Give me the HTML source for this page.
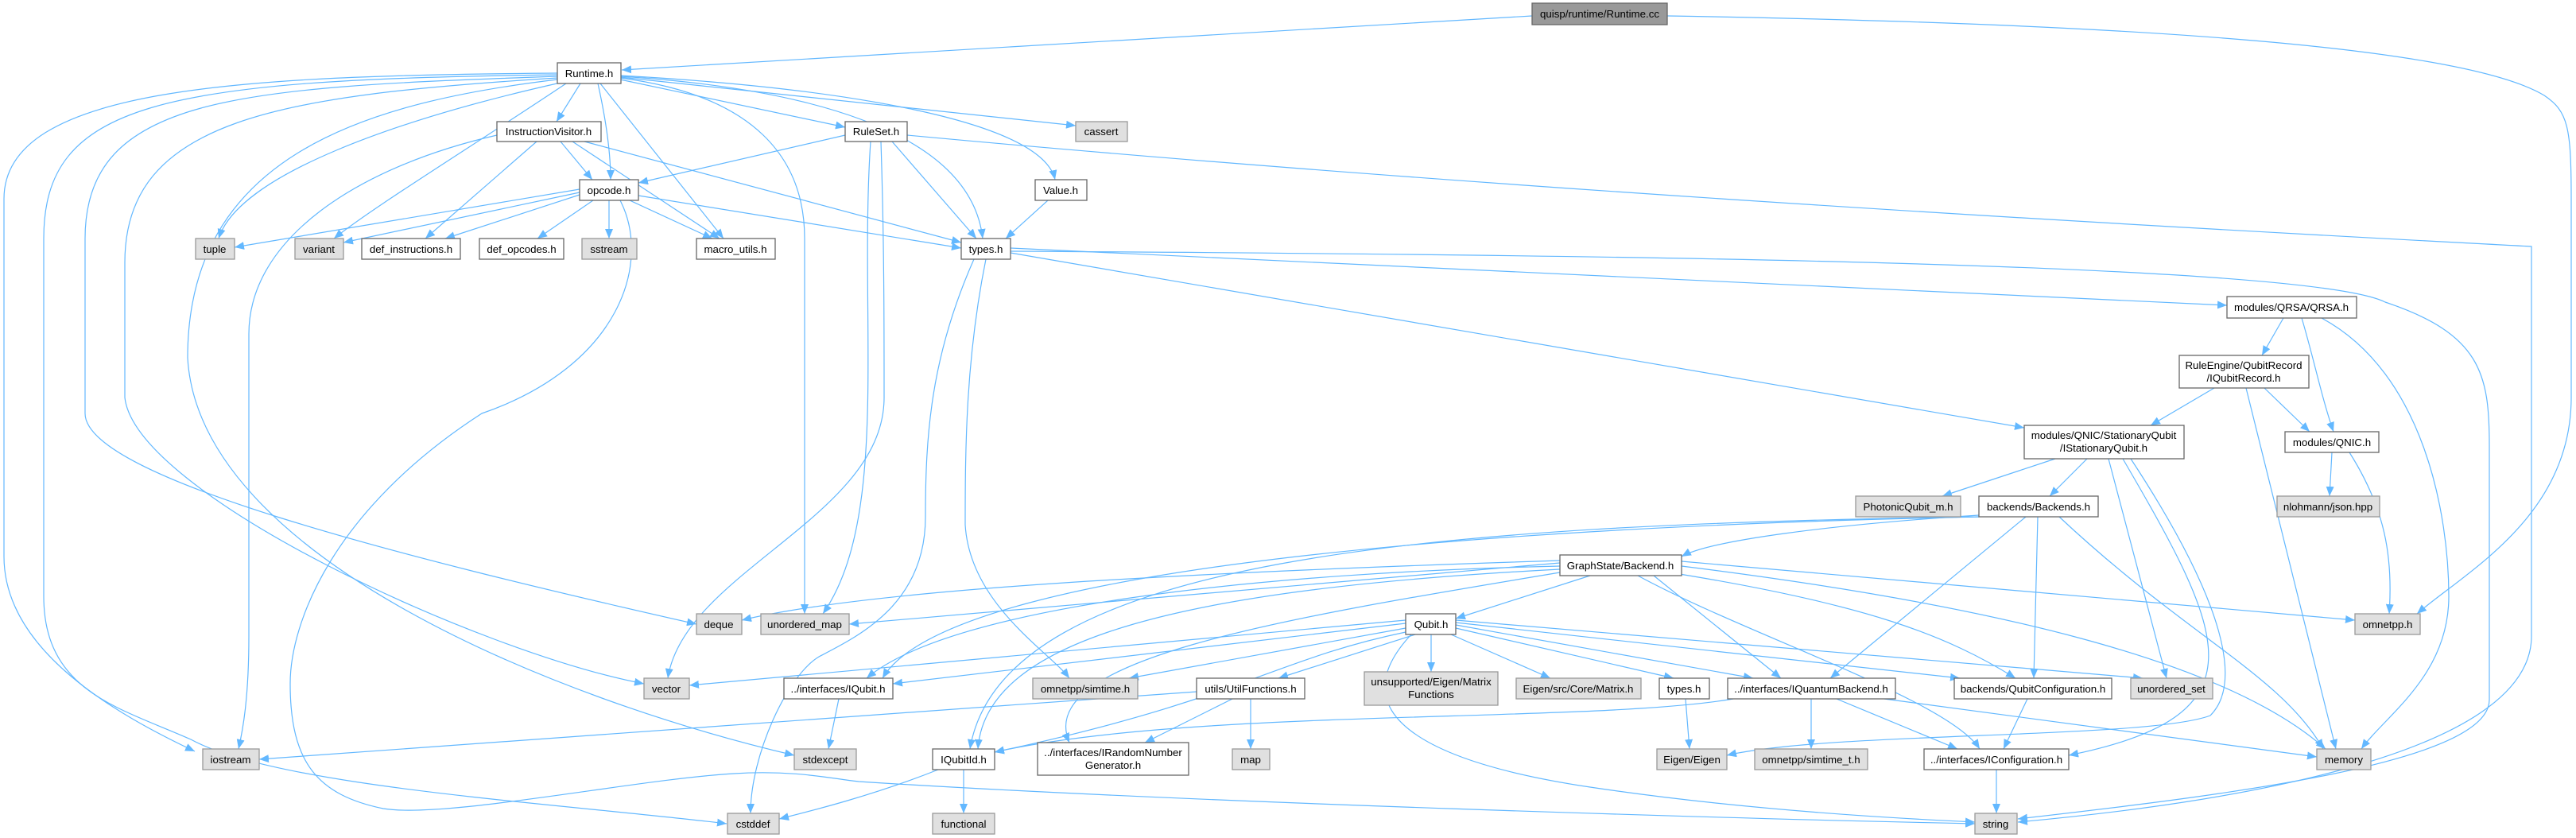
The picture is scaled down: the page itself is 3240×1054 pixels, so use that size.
<!DOCTYPE html>
<html><head><meta charset="utf-8"><style>
html,body{margin:0;padding:0;background:#fff;}
svg{display:block;}
text{font-family:"Liberation Sans",sans-serif;font-size:13.3px;fill:#000;}
.n{fill:#fff;stroke:#666;stroke-width:1.3;}
.g{fill:#e0e0e0;stroke:#999;stroke-width:1.3;}
.r{fill:#999;stroke:#666;stroke-width:1.3;}
path.e{fill:none;stroke:#63b8ff;stroke-width:1.2;marker-end:url(#a);}
</style></head><body>
<svg width="3240" height="1054" viewBox="0 0 3240 1054" xmlns="http://www.w3.org/2000/svg">
<defs><marker id="a" markerUnits="userSpaceOnUse" markerWidth="14" markerHeight="10" refX="12" refY="5" orient="auto"><path d="M0,0 L12,5 L0,10 z" fill="#63b8ff"/></marker></defs>
<g>
<path class="e" d="M1927,20 L782,88"/>
<path class="e" d="M2097,20 C2700,30 3100,60 3200,120 C3230,140 3234,160 3234,250 L3234,500 C3234,650 3100,720 3040,772"/>
<path class="e" d="M730,105 L700,153"/>
<path class="e" d="M752,105 C762,150 768,190 768,226"/>
<path class="e" d="M780,100 L1063,160"/>
<path class="e" d="M780,97 L1353,158"/>
<path class="e" d="M780,95 C1050,110 1310,150 1327,226"/>
<path class="e" d="M780,96 C1000,110 1220,160 1236,300"/>
<path class="e" d="M755,105 L910,300"/>
<path class="e" d="M705,104 C500,150 300,220 275,300"/>
<path class="e" d="M712,105 C600,180 470,260 420,300"/>
<path class="e" d="M780,98 C950,120 1012,200 1012,300 L1012,772"/>
<path class="e" d="M701,92 C300,95 5,110 5,250 L5,700 C5,820 150,900 245,945"/>
<path class="e" d="M701,94 C200,100 55,130 55,300 L55,750 C55,870 150,890 240,930 C350,990 700,1010 914,1036"/>
<path class="e" d="M701,96 C300,110 107,120 107,300 L107,520 C107,600 500,700 876,785"/>
<path class="e" d="M701,98 C350,120 157,150 157,330 L157,500 C170,620 600,820 810,860"/>
<path class="e" d="M701,100 C450,130 236,200 236,450 C250,700 700,880 999,950"/>
<path class="e" d="M705,178 L745,226"/>
<path class="e" d="M675,178 L535,300"/>
<path class="e" d="M720,178 L905,300"/>
<path class="e" d="M735,178 L1209,305"/>
<path class="e" d="M625,170 C450,210 313,300 313,420 L313,800 C313,880 305,920 300,942"/>
<path class="e" d="M729,238 L295,311"/>
<path class="e" d="M729,242 L432,305"/>
<path class="e" d="M729,245 L560,300"/>
<path class="e" d="M746,252 L676,300"/>
<path class="e" d="M766,252 L766,300"/>
<path class="e" d="M792,252 L896,300"/>
<path class="e" d="M803,246 L1209,312"/>
<path class="e" d="M780,252 C820,330 780,460 606,520 C420,640 365,782 365,860 C365,960 400,1000 482,1017 C560,1030 800,980 923,973 C1000,968 1050,980 1080,983 C1500,1010 2200,1030 2484,1036"/>
<path class="e" d="M1063,170 L803,230"/>
<path class="e" d="M1122,178 L1228,300"/>
<path class="e" d="M1108,178 C1112,300 1112,400 1112,500 C1112,650 860,720 840,853"/>
<path class="e" d="M1095,178 C1080,400 1120,650 1035,772"/>
<path class="e" d="M1141,170 C2000,250 3000,300 3184,310 L3184,800 C3184,950 2800,1010 2538,1034"/>
<path class="e" d="M1318,252 L1265,300"/>
<path class="e" d="M1271,312 L2801,384"/>
<path class="e" d="M1271,318 L2546,538"/>
<path class="e" d="M1240,326 C1215,450 1214,560 1214,660 C1220,760 1320,820 1345,853"/>
<path class="e" d="M1225,326 C1170,450 1164,550 1164,650 C1164,760 1080,800 1030,826 C990,850 944,950 944,1023"/>
<path class="e" d="M1271,316 C2000,320 2900,330 3000,380 C3120,420 3131,470 3131,560 L3131,880 C3131,960 2800,1000 2538,1030"/>
<path class="e" d="M2872,400 L2845,447"/>
<path class="e" d="M2895,400 C2910,450 2920,500 2935,543"/>
<path class="e" d="M2920,400 C3050,470 3080,650 3080,750 C3080,850 3000,900 2970,942"/>
<path class="e" d="M2785,488 L2705,535"/>
<path class="e" d="M2848,488 L2905,543"/>
<path class="e" d="M2825,488 L2938,942"/>
<path class="e" d="M2933,569 L2930,624"/>
<path class="e" d="M2955,569 C3000,640 3010,700 3005,772"/>
<path class="e" d="M2585,577 L2443,624"/>
<path class="e" d="M2625,577 L2578,624"/>
<path class="e" d="M2652,577 L2725,853"/>
<path class="e" d="M2670,577 C2800,800 2850,900 2602,950"/>
<path class="e" d="M2680,577 C2800,760 2820,860 2780,900 C2700,930 2300,920 2172,950"/>
<path class="e" d="M2489,648 C2300,660 2150,680 2115,700"/>
<path class="e" d="M2548,650 L2302,853"/>
<path class="e" d="M2563,650 L2558,853"/>
<path class="e" d="M2590,650 C2750,800 2870,850 2922,942"/>
<path class="e" d="M2489,650 C2000,660 1200,700 1110,853"/>
<path class="e" d="M2489,650 C1800,660 1260,700 1220,942"/>
<path class="e" d="M2000,724 L1831,778"/>
<path class="e" d="M1962,705 C1500,720 1100,740 933,780"/>
<path class="e" d="M1962,708 L1068,785"/>
<path class="e" d="M1962,712 C1600,720 1200,760 1090,853"/>
<path class="e" d="M1962,716 C1500,740 1240,800 1230,942"/>
<path class="e" d="M1962,720 C1600,780 1300,830 1345,934"/>
<path class="e" d="M2080,724 L2240,853"/>
<path class="e" d="M2100,720 C2350,760 2450,800 2535,853"/>
<path class="e" d="M2060,724 C2200,800 2450,880 2490,942"/>
<path class="e" d="M2115,712 C2500,760 2800,830 2925,942"/>
<path class="e" d="M2115,706 L2962,780"/>
<path class="e" d="M1768,780 L867,862"/>
<path class="e" d="M1768,784 L1123,860"/>
<path class="e" d="M1768,790 L1420,853"/>
<path class="e" d="M1780,798 L1608,853"/>
<path class="e" d="M1800,798 L1800,845"/>
<path class="e" d="M1825,798 L1950,853"/>
<path class="e" d="M1831,790 L2105,853"/>
<path class="e" d="M1768,795 C1600,830 1560,880 1251,946"/>
<path class="e" d="M1775,798 C1680,900 1800,960 2000,990 C2200,1020 2400,1030 2484,1034"/>
<path class="e" d="M1831,786 L2205,853"/>
<path class="e" d="M1831,783 L2465,853"/>
<path class="e" d="M1831,780 L2695,853"/>
<path class="e" d="M2120,879 L2125,942"/>
<path class="e" d="M1505,870 L326,955"/>
<path class="e" d="M1550,879 L1440,934"/>
<path class="e" d="M1573,879 L1573,942"/>
<path class="e" d="M1055,879 L1042,942"/>
<path class="e" d="M1212,968 L1212,1023"/>
<path class="e" d="M1180,968 C1100,1000 1020,1020 980,1030"/>
<path class="e" d="M2180,879 C2000,910 1500,890 1251,946"/>
<path class="e" d="M2278,879 L2278,942"/>
<path class="e" d="M2310,879 L2462,942"/>
<path class="e" d="M2370,879 L2914,952"/>
<path class="e" d="M2550,879 L2520,942"/>
<path class="e" d="M2511,968 L2511,1023"/>
</g>
<g>
<rect class="r" x="1927" y="4" width="170" height="27"/><text x="2012" y="22" text-anchor="middle">quisp/runtime/Runtime.cc</text>
<rect class="n" x="701" y="79" width="80" height="26"/><text x="741" y="97" text-anchor="middle">Runtime.h</text>
<rect class="n" x="625" y="153" width="131" height="25"/><text x="690" y="170" text-anchor="middle">InstructionVisitor.h</text>
<rect class="n" x="1063" y="153" width="78" height="25"/><text x="1102" y="170" text-anchor="middle">RuleSet.h</text>
<rect class="g" x="1353" y="153" width="65" height="25"/><text x="1385" y="170" text-anchor="middle">cassert</text>
<rect class="n" x="729" y="226" width="74" height="26"/><text x="766" y="244" text-anchor="middle">opcode.h</text>
<rect class="n" x="1302" y="226" width="65" height="26"/><text x="1334" y="244" text-anchor="middle">Value.h</text>
<rect class="g" x="246" y="300" width="49" height="26"/><text x="270" y="318" text-anchor="middle">tuple</text>
<rect class="g" x="371" y="300" width="61" height="26"/><text x="401" y="318" text-anchor="middle">variant</text>
<rect class="n" x="455" y="300" width="124" height="26"/><text x="517" y="318" text-anchor="middle">def_instructions.h</text>
<rect class="n" x="603" y="300" width="106" height="26"/><text x="656" y="318" text-anchor="middle">def_opcodes.h</text>
<rect class="g" x="732" y="300" width="69" height="26"/><text x="766" y="318" text-anchor="middle">sstream</text>
<rect class="n" x="876" y="300" width="99" height="26"/><text x="925" y="318" text-anchor="middle">macro_utils.h</text>
<rect class="n" x="1209" y="300" width="62" height="26"/><text x="1240" y="318" text-anchor="middle">types.h</text>
<rect class="n" x="2801" y="373" width="163" height="27"/><text x="2882" y="391" text-anchor="middle">modules/QRSA/QRSA.h</text>
<rect class="n" x="2741" y="447" width="163" height="41"/><text x="2822" y="464" text-anchor="middle">RuleEngine/QubitRecord</text><text x="2822" y="480" text-anchor="middle">/IQubitRecord.h</text>
<rect class="n" x="2546" y="535" width="201" height="42"/><text x="2646" y="552" text-anchor="middle">modules/QNIC/StationaryQubit</text><text x="2646" y="568" text-anchor="middle">/IStationaryQubit.h</text>
<rect class="n" x="2874" y="543" width="118" height="26"/><text x="2933" y="561" text-anchor="middle">modules/QNIC.h</text>
<rect class="g" x="2334" y="624" width="132" height="26"/><text x="2400" y="642" text-anchor="middle">PhotonicQubit_m.h</text>
<rect class="n" x="2489" y="624" width="150" height="26"/><text x="2564" y="642" text-anchor="middle">backends/Backends.h</text>
<rect class="g" x="2864" y="624" width="129" height="26"/><text x="2928" y="642" text-anchor="middle">nlohmann/json.hpp</text>
<rect class="n" x="1962" y="698" width="153" height="26"/><text x="2038" y="716" text-anchor="middle">GraphState/Backend.h</text>
<rect class="n" x="1768" y="772" width="63" height="26"/><text x="1800" y="790" text-anchor="middle">Qubit.h</text>
<rect class="g" x="876" y="772" width="57" height="26"/><text x="904" y="790" text-anchor="middle">deque</text>
<rect class="g" x="957" y="772" width="111" height="26"/><text x="1012" y="790" text-anchor="middle">unordered_map</text>
<rect class="g" x="2962" y="772" width="82" height="26"/><text x="3003" y="790" text-anchor="middle">omnetpp.h</text>
<rect class="g" x="810" y="853" width="57" height="26"/><text x="838" y="871" text-anchor="middle">vector</text>
<rect class="n" x="986" y="853" width="137" height="26"/><text x="1054" y="871" text-anchor="middle">../interfaces/IQubit.h</text>
<rect class="g" x="1299" y="853" width="132" height="26"/><text x="1365" y="871" text-anchor="middle">omnetpp/simtime.h</text>
<rect class="n" x="1505" y="853" width="136" height="26"/><text x="1573" y="871" text-anchor="middle">utils/UtilFunctions.h</text>
<rect class="g" x="1716" y="845" width="168" height="42"/><text x="1800" y="862" text-anchor="middle">unsupported/Eigen/Matrix</text><text x="1800" y="878" text-anchor="middle">Functions</text>
<rect class="g" x="1907" y="853" width="157" height="26"/><text x="1985" y="871" text-anchor="middle">Eigen/src/Core/Matrix.h</text>
<rect class="n" x="2087" y="853" width="63" height="26"/><text x="2118" y="871" text-anchor="middle">types.h</text>
<rect class="n" x="2173" y="853" width="211" height="26"/><text x="2278" y="871" text-anchor="middle">../interfaces/IQuantumBackend.h</text>
<rect class="n" x="2458" y="853" width="198" height="26"/><text x="2557" y="871" text-anchor="middle">backends/QubitConfiguration.h</text>
<rect class="g" x="2680" y="853" width="103" height="26"/><text x="2731" y="871" text-anchor="middle">unordered_set</text>
<rect class="g" x="255" y="942" width="71" height="26"/><text x="290" y="960" text-anchor="middle">iostream</text>
<rect class="g" x="999" y="942" width="78" height="26"/><text x="1038" y="960" text-anchor="middle">stdexcept</text>
<rect class="n" x="1173" y="942" width="78" height="26"/><text x="1212" y="960" text-anchor="middle">IQubitId.h</text>
<rect class="n" x="1305" y="934" width="190" height="41"/><text x="1400" y="951" text-anchor="middle">../interfaces/IRandomNumber</text><text x="1400" y="967" text-anchor="middle">Generator.h</text>
<rect class="g" x="1550" y="942" width="47" height="26"/><text x="1573" y="960" text-anchor="middle">map</text>
<rect class="g" x="2084" y="942" width="88" height="26"/><text x="2128" y="960" text-anchor="middle">Eigen/Eigen</text>
<rect class="g" x="2207" y="942" width="142" height="26"/><text x="2278" y="960" text-anchor="middle">omnetpp/simtime_t.h</text>
<rect class="n" x="2420" y="942" width="182" height="26"/><text x="2511" y="960" text-anchor="middle">../interfaces/IConfiguration.h</text>
<rect class="g" x="2914" y="942" width="68" height="26"/><text x="2948" y="960" text-anchor="middle">memory</text>
<rect class="g" x="1173" y="1023" width="78" height="26"/><text x="1212" y="1041" text-anchor="middle">functional</text>
<rect class="g" x="915" y="1023" width="65" height="26"/><text x="947" y="1041" text-anchor="middle">cstddef</text>
<rect class="g" x="2484" y="1023" width="53" height="26"/><text x="2510" y="1041" text-anchor="middle">string</text>
</g>
</svg>
</body></html>
